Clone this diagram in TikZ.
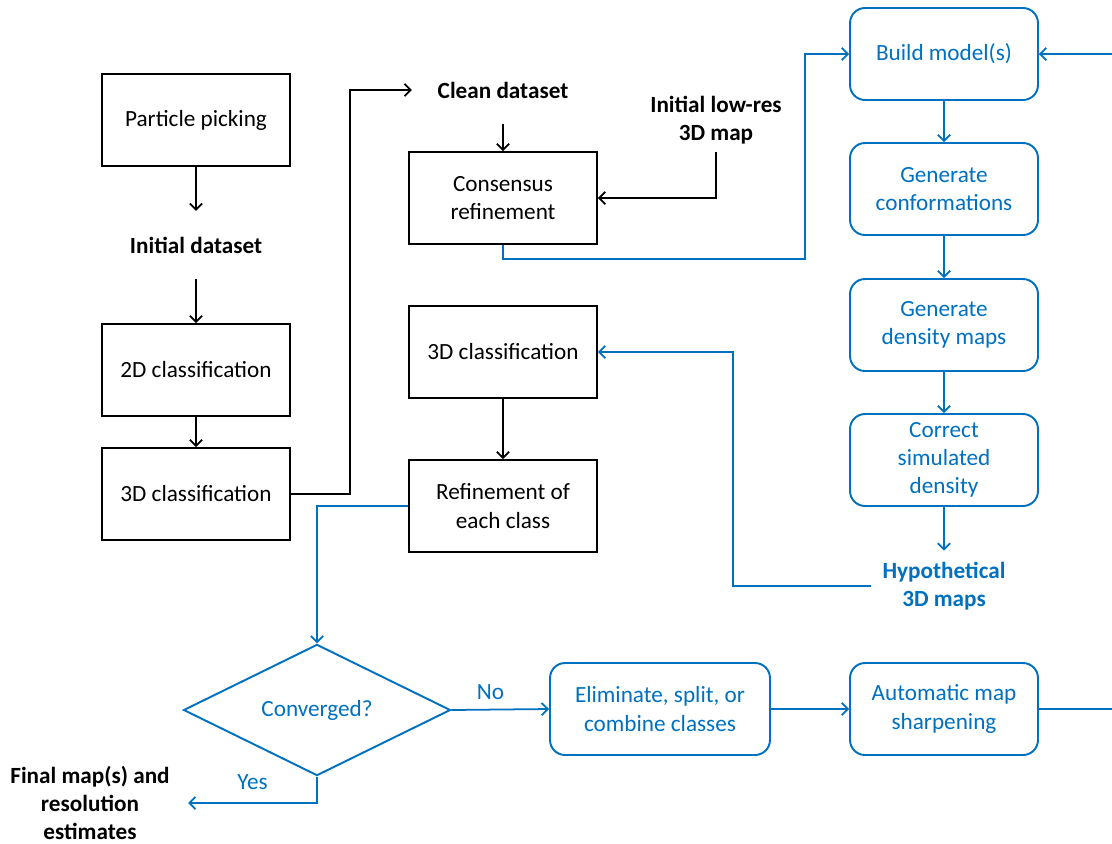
\documentclass[tikz,border=0pt]{standalone}
\usepackage{fontspec}
\setmainfont{Carlito}
\usetikzlibrary{shapes.geometric,arrows.meta}
\definecolor{msblue}{RGB}{0,112,192}
\begin{document}
\begin{tikzpicture}[x=0.02cm, y=-0.02cm, >={Straight Barb[length=3.5pt,width=7pt]}, line width=1pt]
        \tikzstyle{box}=[rectangle, draw=black, line width=1.1pt, minimum width=3.76cm, minimum height=1.84cm, align=center, inner sep=2pt, font=\fontsize{13.2}{16}\selectfont]
        \tikzstyle{bbox}=[box, draw=msblue, text=msblue, rounded corners=0.3cm]
        \tikzstyle{lbl}=[align=center, inner sep=0.5cm, font=\bfseries\fontsize{13.2}{16}\selectfont]
        \tikzstyle{linenode}=[text=msblue, font=\fontsize{13.2}{16}\selectfont]
        \useasboundingbox (0,0) rectangle (1112,843);
        % left column
        \node[box] (P) at (196,120) {Particle picking};
        \node[lbl] (I) at (196,245) {Initial dataset};
        \node[box] (C2) at (196,370) {2D classification};
        \node[box] (C3) at (196,494) {3D classification};
        % middle column
        \node[lbl] (S) at (503,90) {Clean dataset};
        \node[lbl, inner sep=4pt] (L) at (716,120) {Initial low-res\\3D map};
        \node[box] (R) at (503,198) {Consensus\\refinement};
        \node[box] (M) at (503,352) {3D classification};
        \node[box] (F) at (503,506) {Refinement of\\each class};
        % right column
        \node[bbox] (B) at (944,54) {Build model(s)};
        \node[bbox] (G) at (944,189) {Generate\\conformations};
        \node[bbox] (Dm) at (944,325) {Generate\\density maps};
        \node[bbox] (K) at (944,460) {Correct\\simulated\\density};
        \node[lbl, inner sep=6pt, text=msblue] (H) at (944,586) {Hypothetical\\3D maps};
        % bottom row
        \node[diamond, draw=msblue, line width=1.1pt, text=msblue, minimum width=5.34cm, minimum height=2.58cm, inner sep=0pt, font=\fontsize{13.2}{16}\selectfont] (D) at (317,710) {Converged?};
        \node[bbox, minimum width=4.4cm] (E) at (660,709) {Eliminate, split, or\\combine classes};
        \node[bbox] (A) at (944,709) {Automatic map\\sharpening};
        \node[lbl, inner sep=10pt] (Fin) at (90,803) {Final map(s) and\\resolution\\estimates};
        \coordinate (e1) at (1112,709);
        \coordinate (e2) at (1112,54);
        % black connectors
        \path [->] (P) edge[] (I);
        \path [->] (I) edge[] (C2);
        \path [->] (C2) edge[] (C3);
        \path [->] (S) edge[] (R);
        \path [->] (M) edge[] (F);
        \draw [->] (C3.east) -- ++(59,0) |- (S.west);
        \draw [->] (L.south) |- (R.east);
        % blue connectors
        \draw [->, msblue] (R.south) |- (805,259) |- (B.west);
        \draw [->, msblue] (e2) -- (B.east);
        \path [->, msblue] (B) edge[] (G);
        \path [->, msblue] (G) edge[] (Dm);
        \path [->, msblue] (Dm) edge[] (K);
        \path [->, msblue] (K) edge[] (H);
        \draw [->, msblue] (H.west) -- (H.west -| 733,0) |- (M.east);
        \draw [->, msblue] (F.west) -| (D.north);
        \draw [->, msblue] (D.east) -- node[linenode, pos=0.4, above=2pt] {No} (E.west);
        \path [->, msblue] (E) edge[] (A);
        \draw [msblue] (A.east) -- (e1);
        \draw [->, msblue] (D.south) |- node[linenode, pos=0.75, above=4pt] {Yes} (Fin.east);
    \end{tikzpicture}
\end{document}
